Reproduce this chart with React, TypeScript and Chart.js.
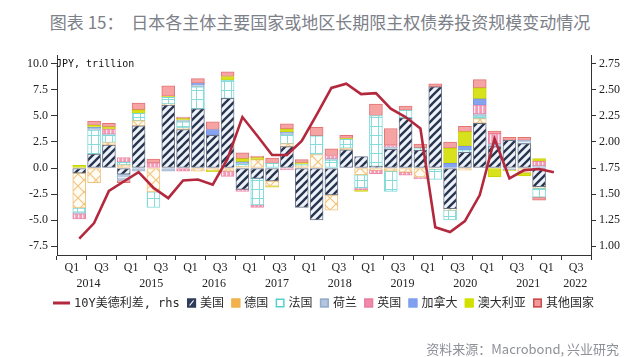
import React, { useEffect, useRef } from 'react';
import { Chart, registerables } from 'chart.js';

Chart.register(...registerables);

// 2014Q1 .. 2021Q4 (bars), spread line 2014Q1 .. 2022Q1
const usa = [-0.5, 1.35, 2.2, -0.6, 4.05, 0, 6.05, 3.7, 5.7, 3.15, 6.7, -2.05, -1.0, -1.25, 2.05, -3.8, -5.0, -2.6, 1.75, 1.1, 0.15, 1.8, 4.8, 1.7, 7.8, -3.9, 1.5, 4.3, 2.05, 2.65, 2.35, -1.8];
const germany = [-3.35, -1.4, 0.25, 0.3, 0.5, -2.3, 0.1, 0.15, -0.3, -0.2, -0.3, 0.15, 0.8, -0.5, 0.3, 0.2, 1.3, -1.45, 0.15, -0.65, -0.2, -0.3, -0.4, -0.85, -0.1, -0.15, -0.2, 0.45, 0, 0, -0.45, -0.15];
const france = [-0.4, 2.3, 0.7, 0.25, 0.7, -1.5, 0.65, 0.6, 2.1, 0, 1.75, 0.2, -2.55, 0.45, 0.85, 0.15, 1.8, 0.75, 0.85, -1.25, 4.9, -1.95, 0.75, 0.25, -1.0, -0.95, 0.25, 0.25, 0, 0, 0, -0.85];
const netherlands = [-0.15, 0.15, 0.1, -0.6, -0.3, 0, -0.3, 0.15, 0.2, 0, 0, 0.1, 0, 0, 0.15, 0, 0, 0.15, 0, 0, 0, 0.2, 0, 0, 0, 0, 0, 0.2, 0.3, -0.15, 0.3, 0.2];
const uk = [-0.5, 0, 0.5, 0.45, 0, 0.5, 0, -0.3, 0, 0, -0.5, -0.2, -0.25, 0, -0.15, 0, 0, 0.3, 0, -0.2, -0.35, 0.2, -0.3, -0.2, 0, 0, 0, 0.85, 0.95, 0, 0, 0.45];
const canada = [0, 0.1, 0, 0, 0, 0, 0, 0, 0.15, 0.55, 0, 0.15, 0, 0, 0.1, 0, 0, 0, 0, 0, 0, 0, 0, 0, 0, 0.45, 0.35, 0.6, 0, 0, 0, 0];
const australia = [0.25, 0.2, 0.2, 0, 0.35, 0, 0.1, 0.15, 0, -0.15, 0.35, 0.3, 0.2, -0.1, 0.3, 0.15, 0, 0, 0.1, -0.15, 0, 0, 0, 0, 0, 1.45, 1.4, 1.05, -0.85, -0.1, -0.3, 0.25];
const others = [0, 0.4, 0.35, -0.2, 0.65, 0.35, 1.0, 0.15, 0.45, 0.75, 0.45, 0.55, 0.15, 0.5, 0.5, 0.3, 0.8, 0.65, 0.3, 0, 1.1, 1.6, 0.4, 0.35, 0.3, 0.6, 0.5, 0.8, 0.25, 0.3, 0.3, -0.3];
const spread = [1.07, 1.22, 1.53, 1.62, 1.71, 1.56, 1.46, 1.63, 1.64, 1.59, 1.84, 2.24, 2.06, 1.875, 1.875, 2.01, 2.26, 2.52, 2.56, 2.46, 2.47, 2.32, 2.24, 2.13, 1.18, 1.135, 1.24, 1.49, 2.03, 1.65, 1.73, 1.74, 1.71];

const quarterCount = 34; // 2014Q1 .. 2022Q2
const halfYearLabels = ['Q1', 'Q3', 'Q1', 'Q3', 'Q1', 'Q3', 'Q1', 'Q3', 'Q1', 'Q3', 'Q1', 'Q3', 'Q1', 'Q3', 'Q1', 'Q3', 'Q1', 'Q3'];
const yearLabels = ['2014', '2015', '2016', '2017', '2018', '2019', '2020', '2021', '2022'];
const yearTickQuarter = [2, 6, 10, 14, 18, 22, 26, 30, 33];
const leftTicks = [-7.5, -5.0, -2.5, 0.0, 2.5, 5.0, 7.5, 10.0];
const rightTicks = [1.0, 1.25, 1.5, 1.75, 2.0, 2.25, 2.5, 2.75];

const lineLabel = '10Y美德利差, rhs';
const seriesNames = ['美国', '德国', '法国', '荷兰', '英国', '加拿大', '澳大利亚', '其他国家'];

function makePattern(w: number, h: number, draw: (c: CanvasRenderingContext2D) => void) {
  const cv = document.createElement('canvas');
  cv.width = w;
  cv.height = h;
  const c = cv.getContext('2d')!;
  draw(c);
  return c.createPattern(cv, 'repeat')!;
}

export default function App() {
  const ref = useRef<HTMLCanvasElement>(null);

  useEffect(() => {
    const usPat = makePattern(8, 8, (c) => {
      c.fillStyle = '#eef3fb';
      c.fillRect(0, 0, 8, 8);
      c.strokeStyle = '#27344e';
      c.lineWidth = 2.3;
      c.beginPath();
      c.moveTo(0, 8); c.lineTo(8, 0);
      c.moveTo(-4, 4); c.lineTo(4, -4);
      c.moveTo(4, 12); c.lineTo(12, 4);
      c.stroke();
    });
    const dePat = makePattern(12, 12, (c) => {
      c.fillStyle = '#fffcf4';
      c.fillRect(0, 0, 12, 12);
      c.strokeStyle = '#f1c47f';
      c.lineWidth = 1.2;
      c.beginPath();
      c.moveTo(0, 0); c.lineTo(12, 12);
      c.moveTo(0, 12); c.lineTo(12, 0);
      c.stroke();
    });
    const frPat = makePattern(7, 9, (c) => {
      c.fillStyle = '#ffffff';
      c.fillRect(0, 0, 7, 9);
      c.fillStyle = '#86dcdc';
      c.fillRect(0, 0, 7, 1);
      c.fillRect(0, 0, 1, 9);
    });
    const nlPat = makePattern(4, 5, (c) => {
      c.fillStyle = '#bccde2';
      c.fillRect(0, 0, 4, 5);
      c.fillStyle = '#e9eff7';
      c.fillRect(0, 2, 4, 1);
    });
    const ukPat = makePattern(4, 4, (c) => {
      c.fillStyle = '#f19bb6';
      c.fillRect(0, 0, 4, 4);
      c.fillStyle = '#fde8ee';
      c.fillRect(2, 0, 1.3, 4);
    });

    const seriesValues = [usa, germany, france, netherlands, uk, canada, australia, others];
    const fills: any[] = [usPat, dePat, frPat, nlPat, ukPat, '#86a3ee', '#d7e21c', '#f6a3a3'];
    const borders = ['#6c7486', '#efc27e', '#7fd8d8', '#a3b8d0', '#ec88a6', '#7393e6', '#c8d300', '#e27474'];
    const legendFills: any[] = ['#2f3d5a', '#f2b24e', '#ffffff', '#b3c6de', '#f08aa9', '#7f9ff0', '#d2e000', '#f29a9a'];
    const legendBorders = ['#2f3d5a', '#f2b24e', '#54d0d0', '#93adcb', '#ea7da0', '#7f9ff0', '#d2e000', '#c94c4c'];

    const barSets = seriesValues.map((arr, k) => ({
      type: 'bar' as const,
      label: seriesNames[k],
      data: arr.map((v, i) => ({ x: i + 0.5, y: v === 0 ? null : v })),
      backgroundColor: fills[k],
      borderColor: borders[k],
      borderWidth: 1,
      borderSkipped: false,
      barThickness: 13,
      stack: 's',
      grouped: false,
      yAxisID: 'y',
      xAxisID: 'x',
      order: 1,
      legendFill: legendFills[k],
      legendBorder: legendBorders[k],
    }));

    const lineSet = {
      type: 'line' as const,
      label: lineLabel,
      data: spread.map((v, i) => ({ x: i + 0.5, y: v })),
      borderColor: '#b3283d',
      backgroundColor: '#b3283d',
      borderWidth: 2.6,
      pointRadius: 0,
      tension: 0,
      yAxisID: 'y1',
      xAxisID: 'x',
      order: 0,
    };

    const legendPlugin = {
      id: 'customLegend',
      afterDraw(chart: any) {
        const ctx = chart.ctx as CanvasRenderingContext2D;
        ctx.save();
        // unit label
        ctx.font = "10px 'DejaVu Sans Mono', 'Noto Sans CJK SC'";
        ctx.fillStyle = '#111';
        ctx.textBaseline = 'middle';
        ctx.textAlign = 'left';
        ctx.fillText('JPY, trillion', chart.chartArea.left - 1, 64);

        ctx.font = "12px 'DejaVu Sans Mono', 'Noto Sans CJK SC'";
        const ds = chart.data.datasets as any[];
        const y = 303;
        const symW = ds.map((d) => (d.type === 'line' ? 21 : 13));
        const textW = ds.map((d) => ctx.measureText(d.label).width);
        const total = symW.reduce((a, b) => a + b, 0) + textW.reduce((a, b) => a + b, 0);
        const x0 = 53;
        const x1 = 594;
        const gap = (x1 - x0 - total) / (ds.length - 1);
        let x = x0;
        ds.forEach((d, k) => {
          if (d.type === 'line') {
            ctx.strokeStyle = d.borderColor;
            ctx.lineWidth = 3;
            ctx.beginPath();
            ctx.moveTo(x, y);
            ctx.lineTo(x + 17, y);
            ctx.stroke();
          } else {
            ctx.fillStyle = d.legendFill;
            ctx.fillRect(x, y - 4.5, 9, 9);
            ctx.strokeStyle = d.legendBorder;
            ctx.lineWidth = 1.5;
            ctx.strokeRect(x + 0.75, y - 3.75, 7.5, 7.5);
            if (k === 1) {
              ctx.strokeStyle = '#ffffff';
              ctx.lineWidth = 1.2;
              ctx.beginPath();
              ctx.moveTo(x + 2.5, y + 2.5);
              ctx.lineTo(x + 6.5, y - 2.5);
              ctx.stroke();
            }
          }
          ctx.fillStyle = '#2a2a2a';
          ctx.fillText(d.label, x + symW[k], y + 0.5);
          x += symW[k] + textW[k] + gap;
        });
        ctx.restore();
      },
    };

    const tickFont = { family: "'Liberation Serif', 'DejaVu Serif', serif", size: 12 };

    const chart = new Chart(ref.current!, {
      data: { datasets: [lineSet as any, ...(barSets as any[])] },
      options: {
        responsive: false,
        maintainAspectRatio: false,
        animation: false,
        layout: { padding: { top: 55, left: 0, right: 0, bottom: 66 } },
        plugins: { legend: { display: false }, tooltip: { enabled: false } },
        scales: {
          x: {
            type: 'linear',
            position: 'bottom',
            min: 0,
            max: quarterCount,
            stacked: true,
            afterBuildTicks: (s: any) => {
              s.ticks = halfYearLabels.map((_, i) => ({ value: i * 2 }));
            },
            ticks: {
              autoSkip: false,
              maxRotation: 0,
              padding: 1,
              color: '#222',
              font: tickFont,
              callback: (_v: any, i: number) => halfYearLabels[i],
            },
            grid: { display: true, drawOnChartArea: false, drawTicks: true, tickLength: 5, color: '#333', lineWidth: 1 },
            border: { display: true, color: '#333', width: 1 },
            afterFit: (s: any) => { s.height = 22; },
          },
          x2: {
            type: 'linear',
            position: 'bottom',
            min: 0,
            max: quarterCount,
            afterBuildTicks: (s: any) => {
              s.ticks = yearTickQuarter.map((q) => ({ value: q }));
            },
            ticks: {
              autoSkip: false,
              maxRotation: 0,
              padding: 0,
              color: '#222',
              font: tickFont,
              callback: (_v: any, i: number) => yearLabels[i],
            },
            grid: { display: false, drawTicks: false },
            border: { display: false },
            afterFit: (s: any) => { s.height = 14; },
          },
          y: {
            type: 'linear',
            position: 'left',
            stacked: true,
            min: -8.365,
            max: 10.865,
            afterBuildTicks: (s: any) => {
              s.ticks = leftTicks.map((v) => ({ value: v }));
            },
            ticks: { padding: 3, color: '#222', font: tickFont, callback: (v: any) => Number(v).toFixed(1) },
            grid: { display: true, drawOnChartArea: false, drawTicks: true, tickLength: 6, color: '#333' },
            border: { display: true, color: '#333', width: 1 },
            afterFit: (s: any) => { s.width = 57; },
          },
          y1: {
            type: 'linear',
            position: 'right',
            min: 0.9135,
            max: 2.8365,
            afterBuildTicks: (s: any) => {
              s.ticks = rightTicks.map((v) => ({ value: v }));
            },
            ticks: { padding: 3, color: '#222', font: tickFont, callback: (v: any) => Number(v).toFixed(2) },
            grid: { display: true, drawOnChartArea: false, drawTicks: true, tickLength: 5, color: '#333' },
            border: { display: true, color: '#333', width: 1 },
            afterFit: (s: any) => { s.width = 49; },
          },
        },
      } as any,
      plugins: [legendPlugin],
    } as any);

    return () => chart.destroy();
  }, []);

  return (
    <div style={{ position: 'absolute', left: 0, top: 0, width: 640, height: 357, background: '#ffffff', overflow: 'hidden' }}>
      <div
        style={{
          position: 'absolute',
          top: 11,
          left: 0,
          width: 640,
          textAlign: 'center',
          fontFamily: "'Noto Sans CJK SC', sans-serif",
          fontSize: 17,
          lineHeight: '22px',
          color: '#7c8088',
          whiteSpace: 'pre',
        }}
      >
        {'图表 15：  日本各主体主要国家或地区长期限主权债券投资规模变动情况'}
      </div>
      <canvas ref={ref} width={640} height={357} style={{ position: 'absolute', left: 0, top: 0, width: 640, height: 357 }} />
      <div
        style={{
          position: 'absolute',
          right: 21,
          top: 340,
          fontFamily: "'Noto Sans CJK SC', sans-serif",
          fontSize: 13,
          lineHeight: '18px',
          color: '#8e9197',
          whiteSpace: 'pre',
        }}
      >
        {'资料来源：Macrobond, 兴业研究'}
      </div>
    </div>
  );
}
